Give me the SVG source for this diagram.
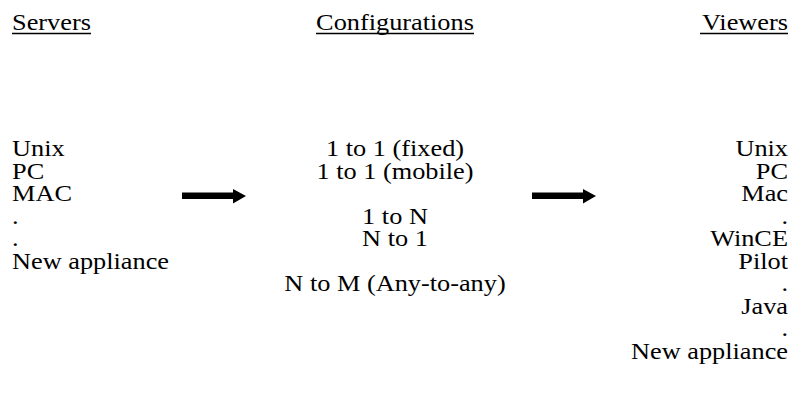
<svg xmlns="http://www.w3.org/2000/svg" width="792" height="418" viewBox="0 0 792 418">
  <style>
    text { font-family: "Liberation Serif", "Times New Roman", serif; font-size: 23.5px; fill: #000; }
    .mid { text-anchor: middle; }
    .end { text-anchor: end; }
    .rule { stroke: #000; stroke-width: 1.5; }
    .arrow { fill: #000; }
  </style>
  <rect width="792" height="418" fill="#fff"/>

  <!-- Column: servers (type set slightly wide) -->
  <g id="servers">
    <g transform="translate(12,0) scale(1.12,1)">
      <text y="30">Servers</text>
      <text y="156">Unix</text>
      <text y="179">PC</text>
      <text y="201">MAC</text>
      <text y="224">.</text>
      <text y="246">.</text>
      <text y="269">New appliance</text>
    </g>
    <line class="rule" x1="12" y1="33.5" x2="91" y2="33.5"/>
  </g>

  <!-- Column: configurations -->
  <g id="configurations">
    <g transform="translate(395,0) scale(1.12,1)">
      <text class="mid" y="30">Configurations</text>
      <text class="mid" y="156">1 to 1 (fixed)</text>
      <text class="mid" y="179">1 to 1 (mobile)</text>
      <text class="mid" y="224">1 to N</text>
      <text class="mid" y="246">N to 1</text>
      <text class="mid" y="291">N to M (Any-to-any)</text>
    </g>
    <line class="rule" x1="316" y1="33.5" x2="474" y2="33.5"/>
  </g>

  <!-- Column: viewers -->
  <g id="viewers">
    <g transform="translate(788,0) scale(1.12,1)">
      <text class="end" y="30">Viewers</text>
      <text class="end" y="156">Unix</text>
      <text class="end" y="179">PC</text>
      <text class="end" y="201">Mac</text>
      <text class="end" y="224">.</text>
      <text class="end" y="246">WinCE</text>
      <text class="end" y="269">Pilot</text>
      <text class="end" y="291">.</text>
      <text class="end" y="314">Java</text>
      <text class="end" y="336">.</text>
      <text class="end" y="359">New appliance</text>
    </g>
    <line class="rule" x1="700" y1="33.5" x2="788" y2="33.5"/>
  </g>

  <!-- Connectors -->
  <g id="connectors">
    <path class="arrow" d="M182,192.5 H233 V189 L246,196 L233,203.5 V199 H182 Z"/>
    <path class="arrow" d="M532,192.5 H583 V189 L596,196 L583,203.5 V199 H532 Z"/>
  </g>
</svg>
